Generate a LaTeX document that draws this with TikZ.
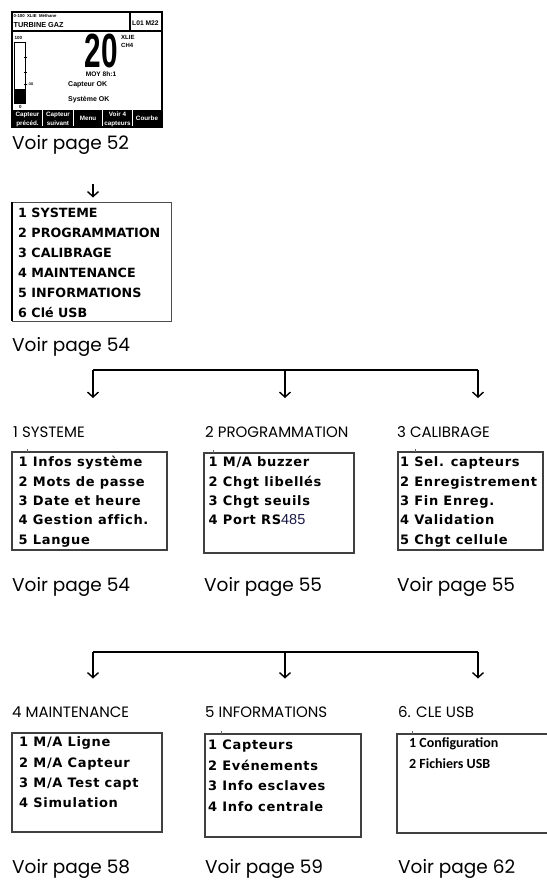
\documentclass[tikz,border=0pt]{standalone}
\usepackage{fontspec}
\usetikzlibrary{arrows.meta}
\newfontfamily\voirfont{Poppins}
\newfontfamily\bmpfont[LetterSpace=5,Ligatures=NoCommon]{DejaVu Sans}
\newfontfamily\menufont{DejaVu Sans}
\newfontfamily\lcdfont{Liberation Sans}
\newfontfamily\calfont{Carlito}
\definecolor{navy}{RGB}{25,25,70}
\begin{document}
\begin{tikzpicture}[x=1pt,y=-1pt,
  arr/.style={-{Straight Barb[length=5pt,width=11pt]}, line width=1.4pt},
  bus/.style={line width=1.8pt},
  boxs/.style={draw=black!75, line width=1.1pt, rectangle, inner sep=0pt, outer sep=0pt, anchor=north west},
  item/.style={font=\bmpfont\bfseries\fontsize{13}{13}\selectfont, anchor=base west, inner sep=0pt},
  mitem/.style={font=\menufont\bfseries\fontsize{12.7}{12.7}\selectfont, anchor=base west, inner sep=0pt},
  citem/.style={font=\calfont\bfseries\fontsize{14}{14}\selectfont, anchor=base west, inner sep=0pt},
  voir/.style={font=\voirfont\fontsize{18.5}{18.5}\selectfont, anchor=base west, inner sep=0pt},
  head/.style={font=\voirfont\fontsize{15}{15}\selectfont, anchor=base west, inner sep=0pt},
  lcd/.style={font=\lcdfont\bfseries\fontsize{7}{7}\selectfont, inner sep=0pt},
  btn/.style={font=\lcdfont\bfseries\fontsize{6.3}{6.3}\selectfont, inner sep=0pt, text=white, anchor=base},
  tick/.style={draw=black!60, line width=0.8pt}
]
\useasboundingbox (0,0) rectangle (546,880);

% ---------------- LCD screen ----------------
\fill[black] (11,11) rectangle (163,128);
\fill[white] (13,13) rectangle (128.5,30.5);
\fill[white] (130.5,13) rectangle (161,30.5);
\fill[white] (13,32.5) rectangle (161,110);
\foreach \x in {42.5,73.5,102.5,132} \draw[white, line width=0.7pt] (\x,110) -- (\x,126.5);
\draw[black, line width=0.9pt] (14.5,42) rectangle (25.5,103);
\fill[black] (14.5,89) rectangle (25.5,103);
\foreach \y in {57,72,84} \draw[black, line width=0.6pt] (23.5,\y) -- (26.5,\y);
\node[lcd, anchor=base west, font=\lcdfont\bfseries\fontsize{4.5}{4.5}\selectfont] (s100) at (14.5,39.5) {100};
\node[lcd, anchor=base west, font=\lcdfont\bfseries\fontsize{4.5}{4.5}\selectfont] (s0) at (19,109) {0};
\node[lcd, anchor=base west, font=\lcdfont\bfseries\fontsize{3.8}{3.8}\selectfont] (s30) at (27.5,85.5) {-30};
\node[lcd, anchor=base west, font=\lcdfont\bfseries\fontsize{4.3}{4.3}\selectfont] (shdr) at (13.5,18) {0-100~~XLIE~~Méthane};
\node[lcd, anchor=base west, font=\lcdfont\bfseries\fontsize{7.3}{7.3}\selectfont] (sturb) at (13.5,28) {TURBINE GAZ};
\node[lcd, anchor=base west, font=\lcdfont\bfseries\fontsize{6.7}{6.7}\selectfont] (sl01) at (132,25.5) {L01 M22};
\node[inner sep=0pt, anchor=base] (sbig) at (101.5,68) {\raisebox{0pt}[\height][0pt]{\scalebox{0.62}[1]{\lcdfont\bfseries\fontsize{48}{48}\selectfont 20}}};
\node[lcd, anchor=base west, font=\lcdfont\bfseries\fontsize{6}{6}\selectfont] (sxl) at (121,40) {XLIE};
\node[lcd, anchor=base west, font=\lcdfont\bfseries\fontsize{6}{6}\selectfont] (sch) at (121,47.5) {CH4};
\node[lcd, anchor=base, font=\lcdfont\bfseries\fontsize{6.6}{6.6}\selectfont] (smoy) at (101,76.5) {MOY 8h:1};
\node[lcd, anchor=base west] (scap) at (68,86.5) {Capteur OK};
\node[lcd, anchor=base west] (ssys) at (68,102) {Système OK};
\node[btn] (bt1a) at (27.5,117) {Capteur};
\node[btn] (bt1b) at (27.5,125) {précéd.};
\node[btn] (bt2a) at (58,117) {Capteur};
\node[btn] (bt2b) at (58,125) {suivant};
\node[btn] (bt3) at (88,121) {Menu};
\node[btn] (bt4a) at (117.5,117) {Voir 4};
\node[btn] (bt4b) at (117.5,125) {capteurs};
\node[btn] (bt5) at (147,121) {Courbe};
\node[voir] (v52) at (12,149) {Voir page 52};

% ---------------- main menu ----------------
\coordinate (a0s) at (93,184);
\coordinate (a0e) at (93,197.5);
\draw[arr] (a0s) -- (a0e);
\node[boxs, draw=black!70, line width=0.9pt, minimum width=159pt, minimum height=119pt] (b0) at (12,202) {};
\draw[line width=2.3pt] (b0.north west) -- (b0.south west);
\foreach \t [count=\i] in {1 SYSTEME, 2 PROGRAMMATION, 3 CALIBRAGE, 4 MAINTENANCE, 5 INFORMATIONS, 6 Clé USB}
  \node[mitem] (b0i\i) at (18,{217+20*(\i-1)}) {\t};
\node[voir] (v54a) at (12,351) {Voir page 54};

% ---------------- row 1 ----------------
\coordinate (r1L) at (93,370);
\coordinate (r1M) at (285,370);
\coordinate (r1R) at (478,370);
\coordinate (e1) at (93,398);
\coordinate (e2) at (285,398);
\coordinate (e3) at (478,398);
\draw[bus] (r1L) -- (r1R);
\draw[arr] (r1L) -- (e1);
\draw[arr] (r1M) -- (e2);
\draw[arr] (r1R) -- (e3);

\node[head] (h1) at (13,437) {1 SYSTEME};
\node[head] (h2) at (205,437) {2 PROGRAMMATION};
\node[head] (h3) at (397,437) {3 CALIBRAGE};

\node[boxs, minimum width=155pt, minimum height=98pt] (b1) at (12,452) {};
\node[boxs, minimum width=150pt, minimum height=100pt] (b2) at (204,453) {};
\node[boxs, minimum width=145pt, minimum height=98pt] (b3) at (398,452) {};
\draw[tick] (27,449) -- (27,452);
\draw[tick] (213,450) -- (213,453);
\draw[tick] (415,449) -- (415,452);

\foreach \t [count=\i] in {1 Infos système, 2 Mots de passe, 3 Date et heure, 4 Gestion affich., 5 Langue}
  \node[item] (b1i\i) at (18.5,{466.7+19.4*(\i-1)}) {\t};
\foreach \t [count=\i] in {1 M/A buzzer, 2 Chgt libellés, 3 Chgt seuils}
  \node[item] (b2i\i) at (208.5,{466.7+19.4*(\i-1)}) {\t};
\node[item] (b2i4) at (208.5,{466.7+19.4*3}) {4 Port RS{\lcdfont\mdseries\fontsize{14.5}{14.5}\selectfont\color{navy}485}};
\foreach \t [count=\i] in {1 Sel. capteurs, 2 Enregistrement, 3 Fin Enreg., 4 Validation, 5 Chgt cellule}
  \node[item] (b3i\i) at (400,{466.7+19.4*(\i-1)}) {\t};

\node[voir] (v54) at (12,591) {Voir page 54};
\node[voir] (v55a) at (204,591) {Voir page 55};
\node[voir] (v55b) at (397,591) {Voir page 55};

% ---------------- row 2 ----------------
\coordinate (r2L) at (93,652);
\coordinate (r2M) at (285,652);
\coordinate (r2R) at (478,652);
\coordinate (f1) at (93,678.5);
\coordinate (f2) at (285,678.5);
\coordinate (f3) at (478,678.5);
\draw[bus] (r2L) -- (r2R);
\draw[arr] (r2L) -- (f1);
\draw[arr] (r2M) -- (f2);
\draw[arr] (r2R) -- (f3);

\node[head] (h4) at (12,717) {4 MAINTENANCE};
\node[head] (h5) at (205,717) {5 INFORMATIONS};
\node[head] (h6) at (398,717) {6. CLE USB};

\node[boxs, minimum width=150pt, minimum height=99pt] (b4) at (12,733) {};
\node[boxs, minimum width=156pt, minimum height=103pt] (b5) at (205,734) {};
\node[boxs, minimum width=155pt, minimum height=99pt] (b6) at (397,734) {};
\draw[tick] (221.5,731) -- (221.5,734);
\draw[tick] (412.5,731) -- (412.5,734);

\foreach \t [count=\i] in {1 M/A Ligne, 2 M/A Capteur, 3 M/A Test capt, 4 Simulation}
  \node[item] (b4i\i) at (19,{746.7+20.3*(\i-1)}) {\t};
\foreach \t [count=\i] in {1 Capteurs, 2 Evénements, 3 Info esclaves, 4 Info centrale}
  \node[item] (b5i\i) at (208,{749.3+20.8*(\i-1)}) {\t};
\node[citem] (b6i1) at (409,747) {1 Configuration};
\node[citem] (b6i2) at (409,768) {2 Fichiers USB};

\node[voir] (v58) at (12,873) {Voir page 58};
\node[voir] (v59) at (205,873) {Voir page 59};
\node[voir] (v62) at (398,873) {Voir page 62};
\end{tikzpicture}
\end{document}
